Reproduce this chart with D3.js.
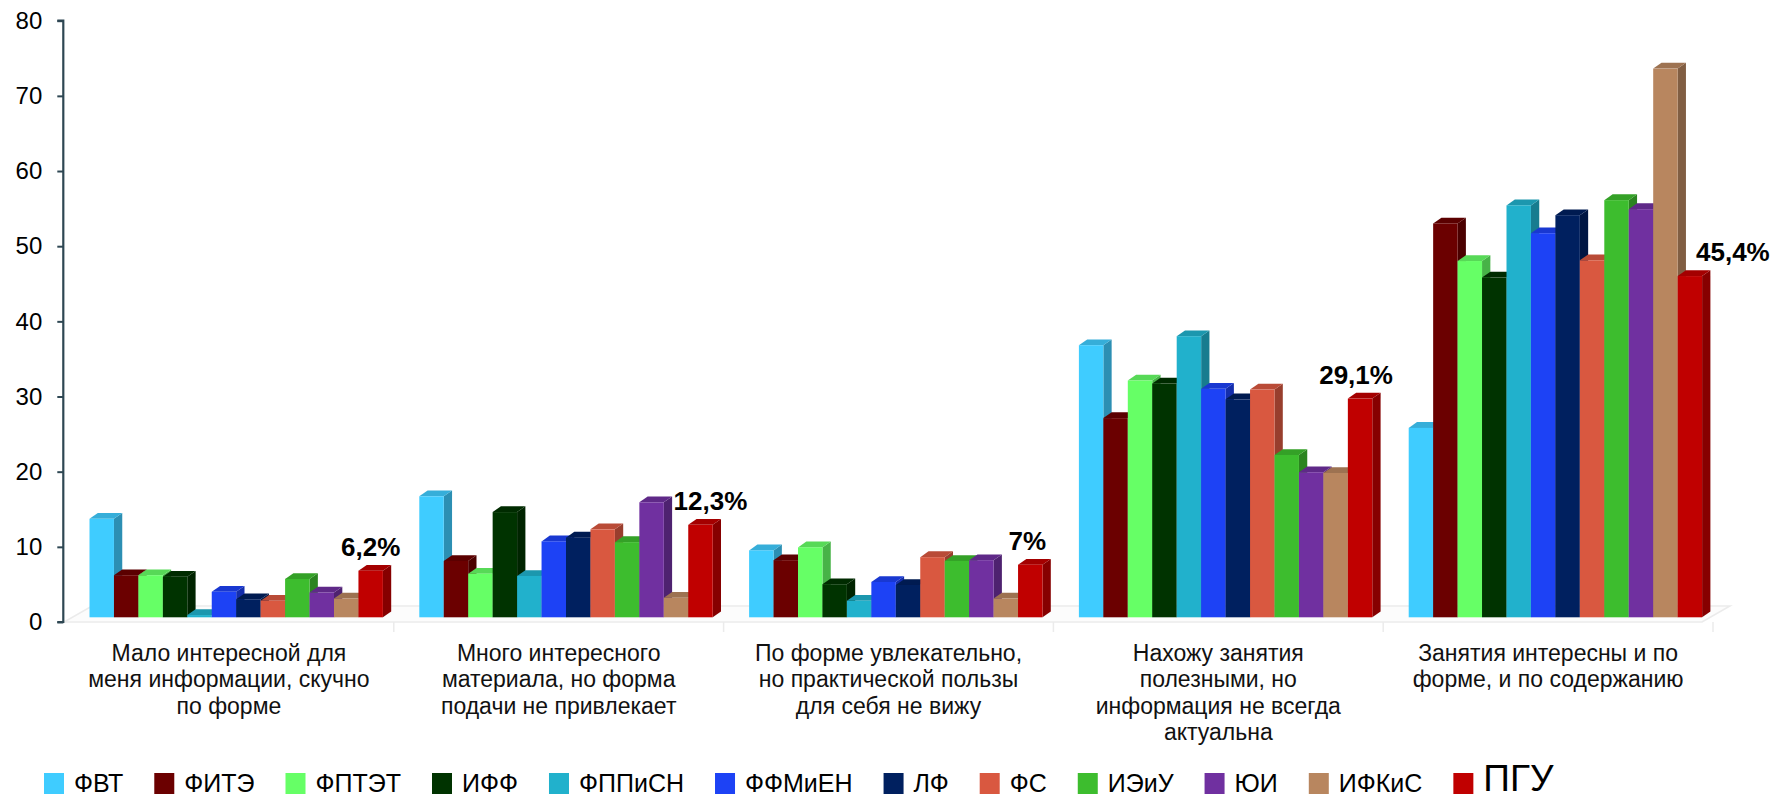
<!DOCTYPE html>
<html>
<head>
<meta charset="utf-8">
<script src="https://cdn.jsdelivr.net/npm/d3@7/dist/d3.min.js"></script>
<style>
  html, body { margin: 0; padding: 0; background: #fff; }
  svg { display: block; font-family: "Liberation Sans", Arial, sans-serif; }
</style>
</head>
<body>
<svg id="chart" width="1771" height="798"></svg>
<script>
// ---- data ----
const categories = [
  "Мало интересной для меня информации, скучно по форме",
  "Много интересного материала, но форма подачи не привлекает",
  "По форме увлекательно, но практической пользы для себя не вижу",
  "Нахожу занятия полезными, но информация не всегда актуальна",
  "Занятия интересны и по форме, и по содержанию"
];
const categoryLines = [
  ["Мало интересной для", "меня информации, скучно", "по форме"],
  ["Много интересного", "материала, но форма", "подачи не привлекает"],
  ["По форме увлекательно,", "но практической пользы", "для себя не вижу"],
  ["Нахожу занятия", "полезными, но", "информация не всегда", "актуальна"],
  ["Занятия интересны и по", "форме, и по содержанию"]
];
const seriesNames = ["ФВТ","ФИТЭ","ФПТЭТ","ИФФ","ФППиСН","ФФМиЕН","ЛФ","ФС","ИЭиУ","ЮИ","ИФКиС","ПГУ"];
const seriesColors = ["#3FCCFF","#6B0000","#66FF66","#003300","#21B1CC","#1D42F5","#00205F","#D95840","#3DBD2E","#7030A0","#B8865F","#C00000"];

const vFVT    = [13.1, 16.1,  8.9, 36.2, 25.2];
const vFITE   = [ 5.6,  7.5,  7.6, 26.5, 52.4];
const vFPTET  = [ 5.6,  5.8,  9.3, 31.5, 47.4];
const vIFF    = [ 5.4, 14.0,  4.4, 31.1, 45.2];
const vFPPiSN = [ 0.3,  5.5,  2.2, 37.4, 54.8];
const vFFMiEN = [ 3.4, 10.1,  4.7, 30.4, 51.1];
const vLF     = [ 2.4, 10.6,  4.3, 29.0, 53.5];
const vFS     = [ 2.2, 11.7,  8.0, 30.3, 47.5];
const vIEiU   = [ 5.1, 10.0,  7.5, 21.6, 55.5];
const vUI     = [ 3.3, 15.3,  7.6, 19.3, 54.3];
const vIFKiS  = [ 2.5,  2.6,  2.5, 19.2, 73.0];
const vPGU    = [ 6.2, 12.3,  7.0, 29.1, 45.4];
const pguLabels = ["6,2%", "12,3%", "7%", "29,1%", "45,4%"];
const yTicks = [0,10,20,30,40,50,60,70,80];

const seriesValues = [vFVT, vFITE, vFPTET, vIFF, vFPPiSN, vFFMiEN, vLF, vFS, vIEiU, vUI, vIFKiS, vPGU];

// ---- layout ----
const svg = d3.select("#chart");
const y = d3.scaleLinear().domain([0, 80]).range([622, 20.7]);
const x0 = d3.scaleBand().domain(categories).range([64, 1713]).padding(0);
const x1 = d3.scaleBand().domain(seriesNames).range([25.5, 25.5 + 12 * 24.45]).padding(0);
const frontDy = -4.7;   // 3D front-face offset above the axis zero
const depthX = 8.3, depthY = 5.8;

// floor
svg.append("polygon")
  .attr("points", [[64,622],[1702,622],[1730,606],[92,606]].map(p => p.join(",")).join(" "))
  .attr("fill", "#fcfcfc").attr("stroke", "#ebebeb").attr("stroke-width", 1.5);
categories.forEach(c => {
  const xb = x0(c) + x0.bandwidth();
  svg.append("line").attr("x1", xb).attr("x2", xb).attr("y1", 622).attr("y2", 632)
    .attr("stroke", "#ebebeb").attr("stroke-width", 1.5);
});

// y axis
const axis = svg.append("g").attr("transform", "translate(63.3,0)")
  .call(d3.axisLeft(y).tickValues(yTicks).tickSize(6).tickPadding(15).tickFormat(d3.format("d")));
axis.select(".domain").attr("stroke", "#2E4753").attr("stroke-width", 2.2).attr("d", `M-6,${y(80)}H0V${y(0)}H-6`);
axis.selectAll(".tick line").attr("stroke", "#2E4753").attr("stroke-width", 2);
axis.selectAll(".tick text").attr("font-size", 24).attr("fill", "#000")
  .attr("font-family", "'Liberation Sans', Arial, sans-serif");

// bars
const gBars = svg.append("g");
categories.forEach((c, ci) => {
  seriesNames.forEach((s, si) => {
    const v = seriesValues[si][ci];
    const col = seriesColors[si];
    const xl = x0(c) + x1(s);
    const w = x1.bandwidth();
    const yt = y(v) + frontDy;
    const yb = y(0) + frontDy;
    const g = gBars.append("g");
    // side face
    g.append("polygon")
      .attr("points", [[xl+w,yb],[xl+w+depthX,yb-depthY],[xl+w+depthX,yt-depthY],[xl+w,yt]].map(p=>p.join(",")).join(" "))
      .attr("fill", d3.color(col).darker(1.0));
    // top face
    g.append("polygon")
      .attr("points", [[xl,yt],[xl+depthX,yt-depthY],[xl+w+depthX,yt-depthY],[xl+w,yt]].map(p=>p.join(",")).join(" "))
      .attr("fill", d3.color(col).darker(0.45));
    // front face
    g.append("rect").attr("x", xl).attr("y", yt).attr("width", w).attr("height", Math.max(0, yb - yt))
      .attr("fill", col);
  });
});

// PGU labels
const labelShift = [0, 10, -3, -4, 43];
categories.forEach((c, ci) => {
  const xl = x0(c) + x1("ПГУ") + x1.bandwidth() / 2 + labelShift[ci];
  svg.append("text")
    .attr("x", xl).attr("y", y(vPGU[ci]) + frontDy - 15)
    .attr("text-anchor", "middle").attr("font-size", 26).attr("font-weight", "bold")
    .attr("fill", "#000").text(pguLabels[ci]);
});

// category labels
categories.forEach((c, ci) => {
  const cx = x0(c) + x0.bandwidth() / 2;
  const t = svg.append("text").attr("text-anchor", "middle").attr("font-size", 23).attr("fill", "#111");
  categoryLines[ci].forEach((ln, li) => {
    t.append("tspan").attr("x", cx).attr("y", 660.5 + li * 26.5).text(ln);
  });
});

// legend
const legend = svg.append("g");
let lx = 44;
seriesNames.forEach((s, si) => {
  const big = s === "ПГУ";
  legend.append("rect").attr("x", lx).attr("y", 773).attr("width", 20).attr("height", 21)
    .attr("fill", seriesColors[si]);
  const t = legend.append("text").attr("x", lx + 30).attr("y", big ? 791 : 792)
    .attr("font-size", big ? 37 : 25).attr("fill", "#000").text(s);
  lx = lx + 30 + t.node().getComputedTextLength() + 31;
});
</script>
</body>
</html>
